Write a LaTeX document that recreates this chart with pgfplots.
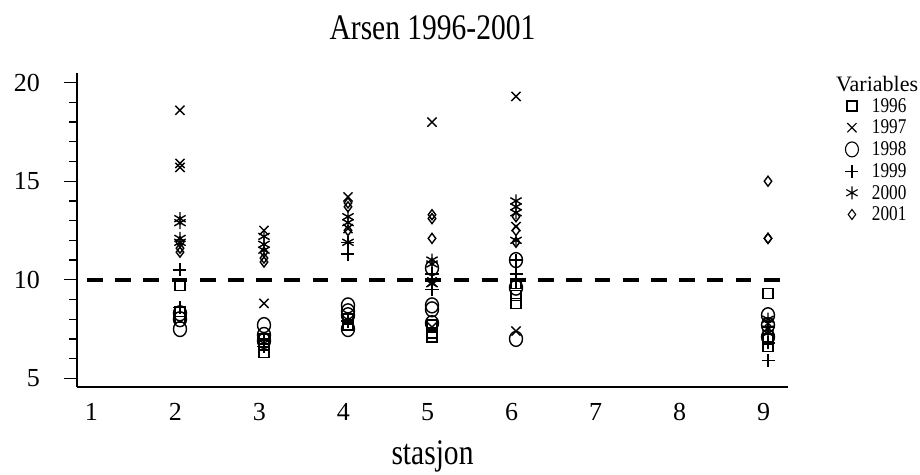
\documentclass[border=0pt]{standalone}
\usepackage{fontspec}
\setmainfont{Liberation Serif}
\newfontfamily\condensed{Liberation Serif}[FakeStretch=0.82]
\usepackage{pgfplots}
\pgfplotsset{compat=1.18}
\begin{document}
\begin{tikzpicture}
\begin{axis}[
  scale only axis, width=711pt, height=314pt,
  xmin=0.774, xmax=9.238, ymin=4.57, ymax=20.5,
  axis lines=left,
  axis line style={-, line width=1.5pt},
  clip=false,
  xtick={1,2,3,4,5,6,7,8,9},
  every x tick/.style={draw=none},
  ytick={5,10,15,20},
  minor y tick num=4,
  tick align=outside,
  major tick length=13pt, minor tick length=8pt,
  every y tick/.style={black, line width=1.3pt},
  every minor y tick/.style={black, line width=1.3pt},
  /pgf/number format/assume math mode=true,
  ticklabel style={font=\fontsize{26}{26}\selectfont},
  xticklabel style={anchor=base, inner sep=0pt, yshift=-20.2pt, xshift=-4.5pt},
  yticklabel style={anchor=east, inner sep=0pt, xshift=-24pt},
  legend cell align=left,
  legend style={at={(rel axis cs:1.0759,0.9288)}, anchor=north west, draw=none, fill=none,
    inner sep=0pt, outer sep=0pt, column sep=10pt, row sep=0pt,
    font=\fontsize{21}{21}\condensed,
    nodes={inner sep=0pt, outer sep=0pt}},
  legend image code/.code={\path[draw=none, fill=none] (0pt,-10.85pt) rectangle (20pt,10.85pt);
    \draw[mark repeat=2,mark phase=2,#1] plot coordinates {(0pt,0pt) (10pt,0pt) (20pt,0pt)};},
  legend image post style={line width=1.1pt},
]
% 1996
\addplot[only marks, mark=square, mark size=5pt, line width=1.4pt, black] table {
x y
2 9.7
2 8.4
2 8.1
3 7.0
3 6.7
3 6.3
4 8.0
4 7.7
5 7.7
5 7.3
5 7.1
6 9.8
6 9.2
6 8.8
9 9.3
9 7.0
9 6.6
};
\addlegendentry{1996}
% 1997
\addplot[only marks, mark=x, mark size=6.5pt, line width=1.4pt, black] table {
x y
2 18.6
2 15.9
2 15.7
3 12.5
3 8.8
4 14.2
4 12.6
5 18.0
5 9.9
5 7.6
6 19.3
6 12.7
6 7.4
9 7.8
};
\addlegendentry{1997}
% 1998
\addplot[only marks, mark=o, mark size=6.5pt, mark options={yscale=1.15}, line width=1.4pt, black] table {
x y
2 8.3
2 8.0
2 7.5
3 7.7
3 7.2
3 6.9
4 8.7
4 8.4
4 8.2
4 7.5
5 10.6
5 8.7
5 8.5
5 7.8
6 11.0
6 9.6
6 7.0
9 8.2
9 7.7
9 7.1
};
\addlegendentry{1998}
% 1999
\addplot[only marks, mark=+, mark size=6.5pt, line width=1.4pt, black] table {
x y
2 10.5
2 8.6
3 7.0
3 6.6
4 11.9
4 11.3
4 7.9
5 10.3
5 9.5
6 11.0
6 10.3
6 9.9
9 7.6
9 6.8
9 5.9
};
\addlegendentry{1999}
% 2000
\addplot[only marks, mark=asterisk, mark size=6.5pt, line width=1.4pt, black] table {
x y
2 13.1
2 12.9
2 12.1
2 11.9
3 12.2
3 11.8
3 11.5
4 13.2
4 12.9
4 11.9
5 11.0
5 10.8
5 9.8
6 14.0
6 13.7
6 13.4
6 12.0
9 8.0
9 7.5
9 7.3
};
\addlegendentry{2000}
% 2001
\addplot[only marks, mark=diamond, mark size=5pt, line width=1.4pt, black] table {
x y
2 11.9
2 11.6
2 11.4
3 11.4
3 11.1
3 10.9
4 13.9
4 13.7
4 12.5
5 13.3
5 13.1
5 12.1
6 13.2
6 12.5
6 11.9
9 15.0
9 12.1
9 12.1
};
\addlegendentry{2001}
% reference line
\addplot[black, line width=3.5pt, dash pattern=on 15.8pt off 12.4pt, dash phase=18.3pt, forget plot] coordinates {(0.774,10) (9.238,10)};
\node[anchor=base, font=\fontsize{36}{36}\condensed] at (rel axis cs:0.5,1.1045) {Arsen 1996-2001};
\node[anchor=base, font=\fontsize{36}{36}\condensed] at (rel axis cs:0.5,-0.247) {stasjon};
\node[anchor=west, inner sep=0pt, font=\fontsize{22}{22}\selectfont] at (rel axis cs:1.0675,0.9643) {Variables};
\end{axis}
\pgfresetboundingbox
\path[use as bounding box] (current axis.south west) ++(-77pt,-87.2pt) rectangle ++(920pt,474pt);
\end{tikzpicture}
\end{document}
